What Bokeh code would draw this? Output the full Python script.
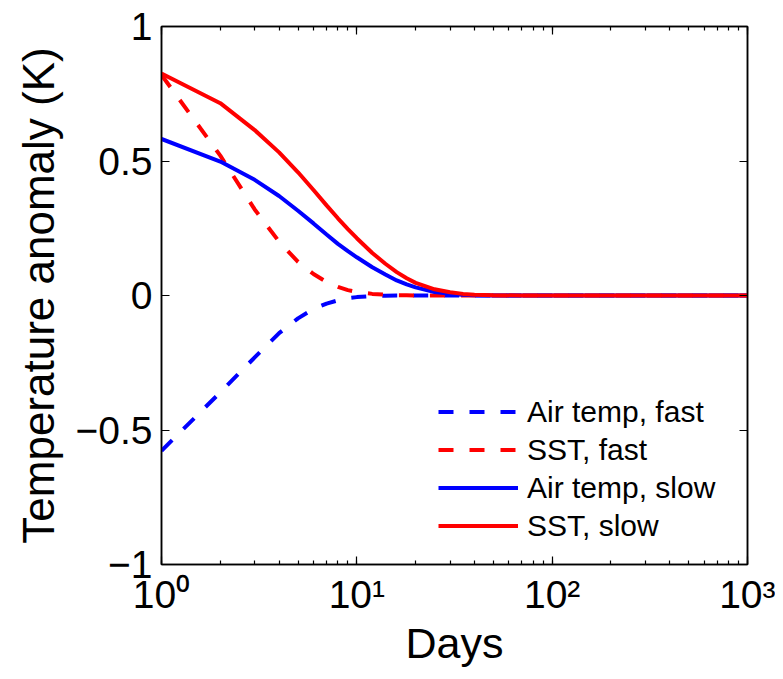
from bokeh.plotting import figure
from bokeh.models import (Range1d, FixedTicker, LogAxis, LinearAxis, LogTicker,
                          Legend, LegendItem)
from bokeh.embed import file_html
from bokeh.resources import INLINE

# ---- data ----
days = [1, 2, 3, 4, 5, 6, 7, 8, 9, 10, 12, 14, 16, 18, 20, 25, 30, 35, 40, 50,
        70, 100, 200, 500, 1000]
air_fast = [-0.577, -0.36, -0.23, -0.14, -0.085, -0.05, -0.03, -0.018, -0.01, -0.006,
            -0.002, -0.001, 0, 0, 0, 0, 0, 0, 0, 0, 0, 0, 0, 0, 0]
sst_fast = [0.82, 0.52, 0.32, 0.20, 0.125, 0.08, 0.05, 0.032, 0.02, 0.013,
            0.006, 0.003, 0.001, 0.0005, 0, 0, 0, 0, 0, 0, 0, 0, 0, 0, 0]
air_slow = [0.582, 0.498, 0.43, 0.37, 0.315, 0.268, 0.227, 0.192, 0.165, 0.142,
            0.105, 0.078, 0.056, 0.041, 0.03, 0.013, 0.006, 0.003, 0.001, 0,
            0, 0, 0, 0, 0]
sst_slow = [0.825, 0.715, 0.615, 0.532, 0.458, 0.392, 0.335, 0.287, 0.247, 0.213,
            0.158, 0.118, 0.087, 0.064, 0.047, 0.023, 0.012, 0.006, 0.003, 0.001,
            0, 0, 0, 0, 0]
series_labels = ["Air temp, fast", "SST, fast", "Air temp, slow", "SST, slow"]
x_tick_values = [1, 10, 100, 1000]
x_tick_labels = ["10\u2070", "10\u00b9", "10\u00b2", "10\u00b3"]
y_tick_values = [-1, -0.5, 0, 0.5, 1]
y_tick_labels = ["\u22121", "\u22120.5", "0", "0.5", "1"]

FONT = "Liberation Sans"

p = figure(width=775, height=671, x_axis_type="log",
           x_range=Range1d(1, 1000), y_range=Range1d(-1, 1),
           output_backend="svg", toolbar_location=None,
           min_border_left=161, min_border_right=28,
           min_border_top=26, min_border_bottom=107)
p.grid.visible = False
p.outline_line_color = "black"
p.outline_line_width = 1.5
p.background_fill_color = "white"

r1 = p.line(days, air_fast, line_color="#0000ff", line_width=4, line_dash="15 16")
r2 = p.line(days, sst_fast, line_color="#ff0000", line_width=4, line_dash="15 16")
r3 = p.line(days, air_slow, line_color="#0000ff", line_width=4)
r4 = p.line(days, sst_slow, line_color="#ff0000", line_width=4)

# bottom axis
xa = p.xaxis[0]
xa.ticker = LogTicker(num_minor_ticks=10)
xa.major_label_overrides = dict(zip(x_tick_values, x_tick_labels))
xa.axis_label = "Days"

# left axis
ya = p.yaxis[0]
ya.ticker = FixedTicker(ticks=y_tick_values, minor_ticks=[])
ya.major_label_overrides = dict(zip(y_tick_values, y_tick_labels))
ya.axis_label = "Temperature anomaly (K)"

for ax in (xa, ya):
    ax.axis_line_color = "black"
    ax.axis_line_width = 1.5
    ax.major_tick_in = 8
    ax.major_tick_out = 0
    ax.minor_tick_in = 4
    ax.minor_tick_out = 0
    ax.major_tick_line_width = 1.2
    ax.minor_tick_line_width = 1.2
    ax.major_label_text_font = FONT
    ax.major_label_text_font_size = "39px"
    ax.major_label_text_color = "black"
    ax.axis_label_text_font = FONT
    ax.axis_label_text_font_style = "normal"
    ax.axis_label_text_color = "black"

xa.axis_label_text_font_size = "43px"
ya.axis_label_text_font_size = "44px"
xa.major_label_standoff = 8
xa.axis_label_standoff = 0
ya.major_label_standoff = 9
ya.axis_label_standoff = 10

# top and right axes (ticks only, MATLAB "box on")
top = LogAxis(ticker=LogTicker(num_minor_ticks=10))
right = LinearAxis(ticker=FixedTicker(ticks=y_tick_values, minor_ticks=[]))
for ax in (top, right):
    ax.axis_line_color = "black"
    ax.axis_line_width = 1.5
    ax.major_tick_in = 8
    ax.major_tick_out = 0
    ax.minor_tick_in = 4
    ax.minor_tick_out = 0
    ax.major_tick_line_width = 1.2
    ax.minor_tick_line_width = 1.2
    ax.major_label_text_font_size = "0px"
    ax.major_label_text_color = None
    ax.major_label_standoff = 0
p.add_layout(top, "above")
p.add_layout(right, "right")

legend = Legend(items=[LegendItem(label=lab, renderers=[r])
                       for lab, r in zip(series_labels, [r1, r2, r3, r4])],
                location=(277, 20))
legend.border_line_color = None
legend.background_fill_alpha = 0
legend.padding = 0
legend.margin = 0
legend.glyph_width = 80
legend.glyph_height = 37
legend.label_height = 37
legend.spacing = 1
legend.label_standoff = 9
legend.label_text_font = FONT
legend.label_text_font_size = "30px"
legend.label_text_color = "black"
p.add_layout(legend, "center")

open("out.html", "w").write(file_html(p, INLINE))
